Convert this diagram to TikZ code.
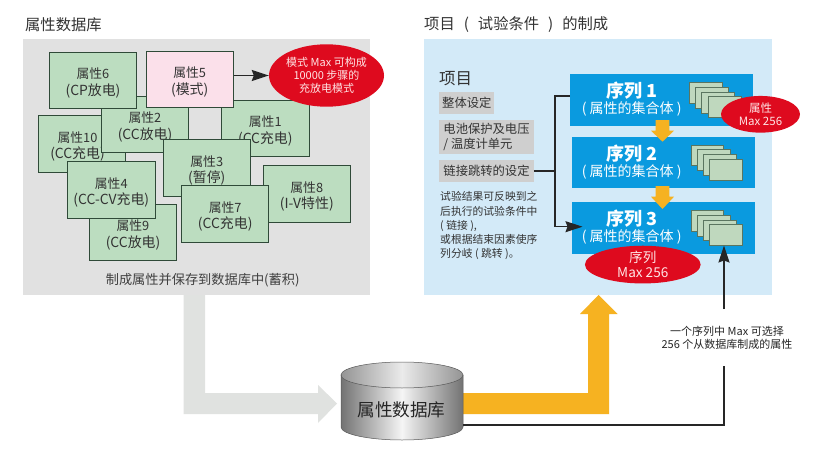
\documentclass[tikz,border=0pt]{standalone}
\usepackage{fontspec}
\setmainfont{Noto Sans CJK SC}
\usetikzlibrary{arrows.meta,shapes.geometric}
\definecolor{panelgray}{HTML}{E1E1E1}
\definecolor{panelblue}{HTML}{D3EAF8}
\definecolor{boxgreen}{HTML}{BCDDC0}
\definecolor{boxpink}{HTML}{FBE0EA}
\definecolor{edgegreen}{HTML}{2F4A38}
\definecolor{redoval}{HTML}{DE0A1E}
\definecolor{seqblue}{HTML}{0A9ADF}
\definecolor{cardgreen}{HTML}{BFD8BE}
\definecolor{orangearrow}{HTML}{F6B221}
\definecolor{grayarrow}{HTML}{E0E2E0}
\definecolor{labelgray}{HTML}{CFCFCF}
\definecolor{txt}{HTML}{333333}
\newcommand{\fs}[1]{\fontsize{#1}{#1}\selectfont}
\newcommand{\attrtxt}[2]{\raisebox{-6.5pt}[10pt][10pt]{\setlength{\tabcolsep}{0pt}\begin{tabular}[c]{c}#1\\{\fontsize{13.9}{15.4}\selectfont #2}\end{tabular}}}
\tikzset{
  attrbox/.style={draw=edgegreen,line width=0.9pt,fill=boxgreen,minimum width=87.3pt,minimum height=56.5pt,inner sep=0pt,text=txt,font=\fontsize{12.8}{15.4}\selectfont},
  pinkbox/.style={attrbox,fill=boxpink},
  redell/.style={ellipse,fill=redoval,draw=none,inner sep=0pt,align=center,text=white!90!red},
  seqbox/.style={fill=seqblue,draw=none,minimum width=183.2pt,minimum height=51.8pt,inner sep=0pt},
  seqtext/.style={text=white,align=center,inner sep=0pt},
  card/.style={draw=edgegreen!70!cardgreen,line width=0.6pt,fill=cardgreen,minimum width=32.8pt,minimum height=20.8pt,inner sep=0pt},
  graylabel/.style={fill=labelgray,inner sep=0pt,align=left,text=txt,font=\fontsize{12.3}{14.6}\selectfont},
  plain/.style={inner sep=0pt,text=txt},
  blackline/.style={draw=black!85,line width=1.5pt},
  blackarrow/.style={blackline,-{Stealth[length=17pt,width=11pt,inset=2pt]}},
}
\begin{document}
\begin{tikzpicture}[x=1pt,y=-1pt]
\useasboundingbox (0,0) rectangle (820,460);
\fill[white] (0,0) rectangle (820,460);
% titles
\node[plain,anchor=west,font=\fs{15.3}] (t1) at (25,25) {属性数据库};
\node[plain,anchor=west,font=\fs{15.3}] (t2) at (424,25) {项目\hspace{9pt}(\hspace{9pt}试验条件\hspace{9pt})\hspace{9pt}的制成};
% panels
\fill[panelgray] (23,39) rectangle (370,295);
\fill[panelblue] (424,39) rectangle (771.7,295);
% flow arrows
\fill[grayarrow] (183.5,295) -- (205,295) -- (205,393) -- (318,393) -- (318,385) -- (337,403.5) -- (318,423) -- (318,414) -- (183.5,414) -- cycle;
\fill[orangearrow] (463,393) -- (588,393) -- (588,314) -- (580,314) -- (598.5,295) -- (617.5,314) -- (609,314) -- (609,414) -- (463,414) -- cycle;
% cylinder
\shade[left color=black!55,right color=black!55,middle color=black!4,draw=black!65,line width=0.5pt]
  (341,375) -- (341,427) arc[start angle=180,end angle=0,x radius=61,y radius=13] -- (463,375) -- cycle;
\shade[left color=black!42,right color=black!42,middle color=black!8,draw=black!65,line width=0.5pt]
  (402,375) ellipse[x radius=61,y radius=13];
\node[inner sep=0pt,text=black!85,font=\fs{17.6}] (db) at (401.5,410) {属性数据库};
% attribute boxes
\node[attrbox] (a10) at (82,144) {\hspace*{-9pt}\attrtxt{属性10}{(CC充电)}};
\node[attrbox] (a2) at (145,124.5) {\attrtxt{属性2}{(CC放电)}};
\node[attrbox] (a1) at (265.3,128.5) {\attrtxt{属性1}{(CC充电)}};
\node[attrbox] (a6) at (93,80.5) {\attrtxt{属性6}{(CP放电)}};
\node[pinkbox] (a5) at (189.7,79.5) {\attrtxt{属性5}{(模式)}};
\node[attrbox] (a3) at (206.8,168) {\attrtxt{属性3}{(暂停)}};
\node[attrbox] (a8) at (306.8,194) {\attrtxt{属性8}{(I-V特性)}};
\node[attrbox] (a9) at (133,232.5) {\attrtxt{属性9}{(CC放电)}};
\node[attrbox] (a4) at (111.3,190) {\attrtxt{属性4}{(CC-CV充电)}};
\node[attrbox] (a7) at (225.2,213.8) {\attrtxt{属性7}{(CC充电)}};
\node[redell,minimum width=115pt,minimum height=62.4pt,font=\fontsize{11}{13.2}\selectfont] (m1) at (326.5,75.5) {模式 Max 可构成\\10000 步骤的\\充放电模式};
\draw[blackarrow] (a5.east |- m1.west) -- (m1.west);
\node[plain,font=\fs{13.2},text=black!75] (cap1) at (202.7,280.5) {制成属性并保存到数据库中(蓄积)};
% project list
\node[plain,anchor=west,font=\fs{16.5}] (proj) at (439,79) {项目};
\node[graylabel,minimum width=55pt,minimum height=22.3pt] (g1) at (466.8,102.8) {整体设定};
\node[graylabel,minimum width=94.4pt,minimum height=34pt] (g2) at (486.5,137) {电池保护及电压\\/ 温度计单元};
\node[graylabel,minimum width=94.4pt,minimum height=22.3pt] (g3) at (486.5,171.2) {链接跳转的设定};
\node[plain,anchor=north west,align=left,font=\fontsize{10.8}{14.2}\selectfont] (para) at (440,191.5) {试验结果可反映到之\\后执行的试验条件中\\( 链接 ),\\或根据结束因素使序\\列分岐 ( 跳转 )。};
% sequences
\node[seqbox] (s1) at (661.7,99.7) {};
\node[seqbox] (s2) at (663.2,162.5) {};
\node[seqbox] (s3) at (663.2,227.9) {};
\node[seqtext,font=\bfseries\fs{18}] (s1a) at (631.7,91) {序列 1};
\node[seqtext,font=\fs{14}] (s1b) at (631.7,109) {( 属性的集合体 )};
\node[seqtext,font=\bfseries\fs{18}] (s2a) at (631.7,154) {序列 2};
\node[seqtext,font=\fs{14}] (s2b) at (631.7,172) {( 属性的集合体 )};
\node[seqtext,font=\bfseries\fs{18}] (s3a) at (631.7,219) {序列 3};
\node[seqtext,font=\fs{14}] (s3b) at (631.7,237) {( 属性的集合体 )};
% cards
\node[card] (c11) at (705.4,93) {};
\node[card] (c12) at (711.7,98) {};
\node[card] (c13) at (718,102.5) {};
\node[card] (c14) at (725,107) {};
\node[card] (c21) at (707.2,155.3) {};
\node[card] (c22) at (713.4,160) {};
\node[card] (c23) at (719.6,165) {};
\node[card] (c24) at (725.8,169.5) {};
\node[card] (c31) at (707.2,221) {};
\node[card] (c32) at (713.4,225.5) {};
\node[card] (c33) at (719.6,230.2) {};
\node[card] (c34) at (725.8,234.8) {};
% orange connectors between sequences
\fill[orangearrow] (655.7,120) -- (669.3,120) -- (669.3,130.7) -- (674,130.7) -- (662.5,141.7) -- (651,130.7) -- (655.7,130.7) -- cycle;
\fill[orangearrow] (655.7,186) -- (669.3,186) -- (669.3,196.7) -- (674,196.7) -- (662.5,209) -- (651,196.7) -- (655.7,196.7) -- cycle;
% red ovals
\node[redell,minimum width=79pt,minimum height=36.7pt,font=\fontsize{11.5}{13}\selectfont] (m2) at (760.5,114.3) {属性\\Max 256};
\node[redell,minimum width=115.7pt,minimum height=37.3pt,font=\fontsize{13.6}{15}\selectfont] (m3) at (642.8,264.6) {序列\\Max 256};
% black connectors
\coordinate (j0) at (555,171.2);
\coordinate (j1) at (555,96);
\coordinate (j2) at (555,226.7);
\coordinate (s1in) at (s1.west |- j1);
\coordinate (s3in) at (582.5,226.7);
\draw[blackline] (g3.east) -- (j0);
\draw[blackline] (s1in) -- (j1) -- (j0);
\draw[blackarrow] (j0) -- (j2) -- (s3in);
\coordinate (dbout) at (463,425);
\coordinate (corner) at (724,425);
\coordinate (lab1) at (724,366);
\coordinate (lab2) at (724,309);
\node[plain,align=center,text=black!85,font=\fontsize{11}{12.4}\selectfont] (note) at (727,337.8) {一个序列中 Max 可选择\\256 个从数据库制成的属性};
\draw[blackline] (dbout) -- (corner) -- (lab1);
\draw[blackarrow] (lab2) -- (c34.south -| lab2);
\end{tikzpicture}
\end{document}
